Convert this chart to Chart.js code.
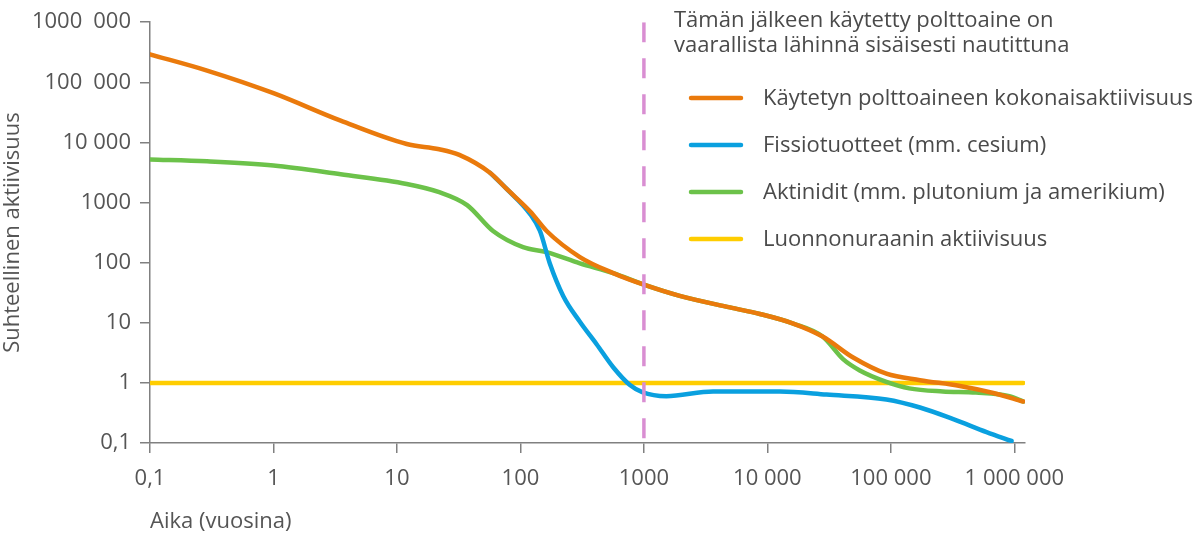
<!DOCTYPE html>
<html><head><meta charset="utf-8">
<script src="https://cdn.jsdelivr.net/npm/chart.js@4.4.1/dist/chart.umd.min.js"></script>
<style>html,body{margin:0;padding:0;background:#fff}#wrap{width:1200px;height:535px;position:relative}</style>
</head><body><div id="wrap"><canvas id="c" width="1200" height="535"></canvas></div>
<script>
// Axis ticks
const xTickValues = [0.1, 1, 10, 100, 1000, 10000, 100000, 1000000];
const xTickLabels = ['0,1', '1', '10', '100', '1000', '10 000', '100 000', '1 000 000'];
const yTickValues = [0.1, 1, 10, 100, 1000, 10000, 100000, 1000000];
const yTickLabels = ['0,1', '1', '10', '100', '1000', '10 000', '100\u2002000', '1000\u2002000'];

// Series
const seriesNames = [
  'Käytetyn polttoaineen kokonaisaktiivisuus',
  'Fissiotuotteet (mm. cesium)',
  'Aktinidit (mm. plutonium ja amerikium)',
  'Luonnonuraanin aktiivisuus'
];
const totalYears  = [0.1, 0.29, 1, 3.5, 12, 22, 32, 57, 77, 120, 163, 303, 564, 1000, 1950, 4970, 8700, 16200, 28000, 49500, 92000, 172000, 363000, 676000, 1180000];
const totalValues = [292000, 157000, 66000, 23000, 9400, 7700, 6200, 3100, 1700, 710, 336, 124, 67, 43, 28, 18, 14, 9.7, 5.9, 2.64, 1.42, 1.11, 0.89, 0.68, 0.49];

const fissionYears  = [57, 77, 120, 144, 173, 222, 303, 414, 564, 771, 970, 1520, 3630, 12600, 30100, 92000, 172000, 320000, 596000, 950000];
const fissionValues = [3100, 1700, 640, 336, 97, 28, 10.4, 4.4, 1.82, 0.92, 0.70, 0.60, 0.72, 0.72, 0.64, 0.53, 0.39, 0.25, 0.152, 0.108];

const actinideYears  = [0.1, 0.29, 1, 3.5, 12, 22, 37, 60, 105, 163, 303, 564, 1000, 1950, 4970, 8700, 16200, 28000, 41000, 56000, 92000, 141000, 263000, 490000, 912000, 1180000];
const actinideValues = [5200, 4850, 4130, 2950, 2040, 1490, 908, 336, 181, 150, 97, 67, 43, 28, 18, 14, 9.7, 5.9, 2.48, 1.61, 1.04, 0.81, 0.72, 0.69, 0.6, 0.49];

const uraniumYears  = [0.1, 1180000];
const uraniumValues = [1, 1];

const markerYears  = [1000, 1000];
const markerValues = [1000000, 0.1];

const noteLines = ['Tämän jälkeen käytetty polttoaine on', 'vaarallista lähinnä sisäisesti nautittuna'];
const colors = ['#ea7a0c', '#0aa0df', '#6cc24a', '#ffcd00'];
const markerColor = '#d98ed2';

const pts = (xs, ys) => xs.map((x, i) => ({x, y: ys[i]}));
const FONT = '"Open Sans", Lato, sans-serif';
const TEXT = '#555555';

const lineDs = (label, data, color) => ({
  label, data, borderColor: color, backgroundColor: color, borderWidth: 4.5,
  pointRadius: 0, cubicInterpolationMode: 'monotone', fill: false,
  borderCapStyle: 'round', borderJoinStyle: 'round'
});

const overlay = {
  id: 'overlay',
  afterDraw(chart) {
    const ctx = chart.ctx;
    ctx.save();
    ctx.font = '22px ' + FONT;
    ctx.fillStyle = '#4a4a4a';
    ctx.textBaseline = 'middle';
    ctx.textAlign = 'left';
    noteLines.forEach((t, i) => ctx.fillText(t, 674, 21 + i * 25));
    // legend
    seriesNames.forEach((name, i) => {
      const y = 98 + i * 47;
      ctx.strokeStyle = colors[i];
      ctx.lineWidth = 4.5;
      ctx.lineCap = 'round';
      ctx.beginPath();
      ctx.moveTo(691, y);
      ctx.lineTo(741, y);
      ctx.stroke();
      ctx.fillStyle = '#4a4a4a';
      ctx.fillText(name, 763, y + 1);
    });
    ctx.restore();
  }
};

new Chart(document.getElementById('c'), {
  type: 'line',
  data: {
    datasets: [
      {label: 'marker', data: pts(markerYears, markerValues), borderColor: markerColor, borderWidth: 3.5,
       borderDash: [20, 16], pointRadius: 0, fill: false, tension: 0},
      lineDs(seriesNames[0], pts(totalYears, totalValues), colors[0]),
      lineDs(seriesNames[1], pts(fissionYears, fissionValues), colors[1]),
      lineDs(seriesNames[2], pts(actinideYears, actinideValues), colors[2]),
      lineDs(seriesNames[3], pts(uraniumYears, uraniumValues), colors[3])
    ]
  },
  options: {
    responsive: false,
    devicePixelRatio: 1,
    animation: false,
    layout: {padding: {top: 12, right: 175, left: 0, bottom: 0}},
    plugins: {legend: {display: false}, tooltip: {enabled: false}},
    scales: {
      x: {
        type: 'logarithmic', min: 0.1, max: 1220000,
        afterBuildTicks: s => { s.ticks = xTickValues.map(v => ({value: v})); },
        afterFit: s => { s.height = 92; },
        ticks: {
          autoSkip: false, maxRotation: 0, padding: 13, color: TEXT,
          font: {family: FONT, size: 22},
          callback: (v, i) => xTickLabels[i]
        },
        grid: {drawOnChartArea: false, drawTicks: true, tickLength: 10, color: '#808080', lineWidth: 1.5},
        border: {color: '#808080', width: 1.5},
        title: {display: true, text: 'Aika (vuosina)', align: 'start', color: TEXT,
                font: {family: FONT, size: 22}, padding: {top: 0, bottom: 0}}
      },
      y: {
        type: 'logarithmic', min: 0.1, max: 1000000,
        afterBuildTicks: s => { s.ticks = yTickValues.map(v => ({value: v})); },
        afterFit: s => { s.width = 150; },
        ticks: {
          autoSkip: false, padding: 9, color: TEXT,
          font: {family: FONT, size: 22},
          callback: (v, i) => yTickLabels[i]
        },
        grid: {drawOnChartArea: false, drawTicks: true, tickLength: 10, color: '#808080', lineWidth: 1.5},
        border: {color: '#808080', width: 1.5},
        title: {display: true, text: 'Suhteellinen aktiivisuus', color: TEXT,
                font: {family: FONT, size: 22}, padding: {top: 0, bottom: 0}}
      }
    }
  },
  plugins: [overlay]
});
</script></body></html>
